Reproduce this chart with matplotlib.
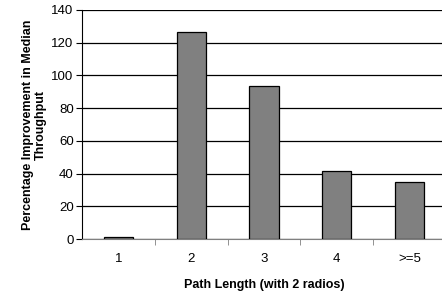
import matplotlib
matplotlib.use("Agg")
from matplotlib import pyplot as plt

categories = ["1", "2", "3", "4", ">=5"]
improvement = [1, 126.5, 93.5, 41.5, 35]
y_ticks = [0, 20, 40, 60, 80, 100, 120, 140]

plt.rcParams["font.family"] = ["Liberation Sans", "DejaVu Sans"]

fig = plt.figure(figsize=(4.42, 2.91), dpi=100)
ax = fig.add_axes([82 / 442, (291 - 239) / 291, 364 / 442, 229 / 291])

x = list(range(len(categories)))
ax.bar(x, improvement, width=0.4, color="#808080", edgecolor="black",
       linewidth=0.9, zorder=3)

ax.set_ylim(0, 140)
ax.set_xlim(-0.5, len(categories) - 0.5)
ax.set_yticks(y_ticks)
ax.yaxis.grid(True, color="black", linewidth=0.9, zorder=0)

ax.set_xticks(x)
ax.set_xticklabels(categories, fontsize=9.5)
ax.set_xticks([i + 0.5 for i in range(len(categories) - 1)], minor=True)
ax.tick_params(axis="x", which="major", length=0, pad=10)
ax.tick_params(axis="x", which="minor", length=4, direction="out", color="gray")
ax.tick_params(axis="y", labelsize=9.5, length=4, pad=2)

for side in ["top", "right"]:
    ax.spines[side].set_visible(False)
ax.spines["left"].set_color("black")
ax.spines["bottom"].set_color("gray")

ax.set_xlabel("Path Length (with 2 radios)", fontsize=9, fontweight="bold", labelpad=10)
ax.set_ylabel("Percentage Improvement in Median\nThroughput", fontsize=9,
              fontweight="bold", labelpad=3, linespacing=1.15)

fig.savefig("out.png", dpi=100)
